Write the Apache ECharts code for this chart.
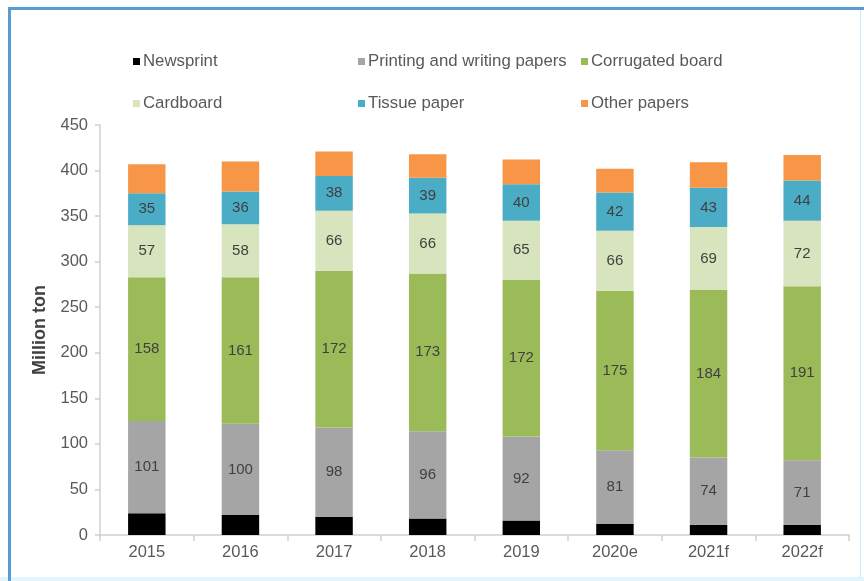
<!DOCTYPE html>
<html>
<head>
<meta charset="utf-8">
<script src="https://cdn.jsdelivr.net/npm/echarts@6/dist/echarts.min.js"></script>
<style>
html,body{margin:0;padding:0;background:#ffffff;}
#c{width:864px;height:581px;}
</style>
</head>
<body>
<div id="c"></div>
<script>
const categories = ['2015','2016','2017','2018','2019','2020e','2021f','2022f'];
const seriesNames = ['Newsprint','Printing and writing papers','Corrugated board','Cardboard','Tissue paper','Other papers'];
const newsprint = [24, 22, 20, 18, 16, 12, 11, 11];
const printing = [101, 100, 98, 96, 92, 81, 74, 71];
const corrugated = [158, 161, 172, 173, 172, 175, 184, 191];
const cardboard = [57, 58, 66, 66, 65, 66, 69, 72];
const tissue = [35, 36, 38, 39, 40, 42, 43, 44];
const other = [32, 33, 27, 26, 27, 26, 28, 28];
const yTicks = [0, 50, 100, 150, 200, 250, 300, 350, 400, 450];

const colors = ['#000000', '#a5a5a5', '#9bbb59', '#d7e4bd', '#4bacc6', '#f79646'];
const dataSets = [newsprint, printing, corrugated, cardboard, tissue, other];
const showLabel = [false, true, true, true, true, false];

const chart = echarts.init(document.getElementById('c'));
const font = 'Liberation Sans, Arial, sans-serif';

const legendPos = [
  [133, 53], [358, 53], [581, 53],
  [133, 95], [358, 95], [581, 95]
];

const option = {
  animation: false,
  backgroundColor: '#ffffff',
  color: colors,
  textStyle: { fontFamily: font },
  grid: { left: 100, right: 15, top: 125, bottom: 46, containLabel: false },
  legend: seriesNames.map((n, i) => ({
    data: [n],
    left: legendPos[i][0],
    top: legendPos[i][1],
    padding: 0,
    itemWidth: 7,
    itemHeight: 7,
    itemGap: 3,
    icon: 'rect',
    textStyle: { color: '#595959', fontSize: 16.8, fontFamily: font, padding: [0, 0, 0, -2] },
    selectedMode: false
  })),
  xAxis: {
    type: 'category',
    data: categories,
    axisLine: { lineStyle: { color: '#d0d0d0', width: 1.5 } },
    axisTick: { show: true, alignWithLabel: false, length: 6, lineStyle: { color: '#d0d0d0', width: 1.5 } },
    axisLabel: { color: '#595959', fontSize: 16.5, margin: 9, fontFamily: font }
  },
  yAxis: {
    type: 'value',
    min: 0,
    max: 450,
    interval: 50,
    name: 'Million ton',
    nameLocation: 'middle',
    nameGap: 51,
    nameTextStyle: { color: '#404040', fontSize: 18, fontWeight: 'bold', fontFamily: font },
    axisLine: { show: true, lineStyle: { color: '#d0d0d0', width: 1.5 } },
    axisTick: { show: true, length: 5, lineStyle: { color: '#d0d0d0', width: 1.5 } },
    splitLine: { show: false },
    axisLabel: {
      color: '#595959', fontSize: 16.5, margin: 12, fontFamily: font,
      formatter: v => yTicks.includes(v) ? String(v) : ''
    }
  },
  series: seriesNames.map((n, i) => ({
    name: n,
    type: 'bar',
    stack: 'total',
    barWidth: '40%',
    data: dataSets[i],
    itemStyle: { color: colors[i] },
    label: {
      show: showLabel[i],
      position: 'inside',
      color: '#404040',
      fontSize: 15,
      fontFamily: font
    }
  })),
  graphic: [
    { type: 'rect', silent: true, z: -1,
      shape: { x: 860, y: 8, width: 1, height: 570 },
      style: { fill: '#cfe6f5' } },
    { type: 'rect', silent: true, z: -1,
      shape: { x: 0, y: 577, width: 864, height: 4 },
      style: { fill: '#e3f5fb' } },
    { type: 'rect', silent: true, z: -1,
      shape: { x: 8, y: 7, width: 856, height: 3 },
      style: { fill: '#5b9bd5' } },
    { type: 'rect', silent: true, z: -1,
      shape: { x: 8, y: 7, width: 3, height: 574 },
      style: { fill: '#5b9bd5' } }
  ]
};
chart.setOption(option);
</script>
</body>
</html>
